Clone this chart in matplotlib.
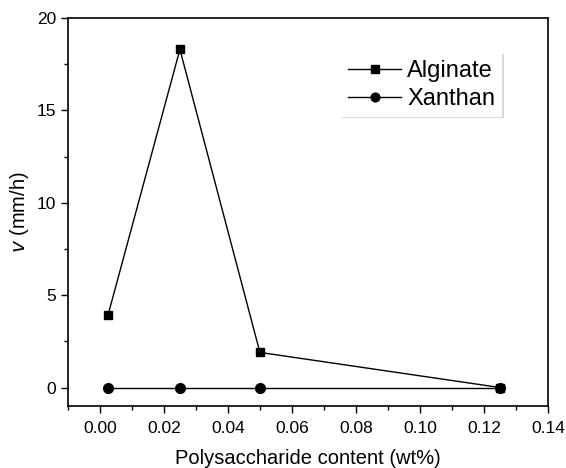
import matplotlib
matplotlib.use("Agg")
import matplotlib.pyplot as plt

content = [0.0025, 0.025, 0.05, 0.125]
alginate = [3.9, 18.3, 1.9, 0.0]
xanthan = [0.0, 0.0, 0.0, 0.0]

plt.rcParams.update({"font.family": ["Liberation Sans", "DejaVu Sans"], "font.size": 12})

fig = plt.figure(figsize=(5.66, 4.68), dpi=100)
ax = fig.add_axes([0.120, 0.1325, 0.848, 0.829])

ax.plot(content, alginate, "-s", color="black", lw=1, ms=6, label="Alginate")
ax.plot(content, xanthan, "-o", color="black", lw=1, ms=7, label="Xanthan")

ax.set_xlim(-0.01, 0.14)
ax.set_ylim(-1, 20)
ax.set_xticks([0.00, 0.02, 0.04, 0.06, 0.08, 0.10, 0.12, 0.14])
ax.set_xticks([-0.01, 0.01, 0.03, 0.05, 0.07, 0.09, 0.11, 0.13], minor=True)
ax.set_yticks([0, 5, 10, 15, 20])
ax.set_yticks([2.5, 7.5, 12.5, 17.5], minor=True)
ax.tick_params(which="major", direction="out", length=5, width=1, labelsize=12.5)
ax.tick_params(axis="x", which="major", pad=6)
ax.tick_params(which="minor", direction="out", length=3, width=1)
for s in ax.spines.values():
    s.set_linewidth(1.2)

ax.set_xlabel("Polysaccharide content (wt%)", fontsize=14.5, labelpad=9)
ax.set_ylabel("$\\it{v}$ (mm/h)", fontsize=14.5)

leg = ax.legend(loc="upper right", bbox_to_anchor=(0.905, 0.91), fontsize=17, frameon=True,
                fancybox=False, edgecolor="white", handlelength=2.25, handletextpad=0.25,
                borderpad=0.3, borderaxespad=0, labelspacing=0.25, markerscale=0.9,
                shadow={"color": "#b5b5b5", "ox": 1, "oy": -1})
leg.get_frame().set_linewidth(0)

fig.savefig("out.png", dpi=100)
